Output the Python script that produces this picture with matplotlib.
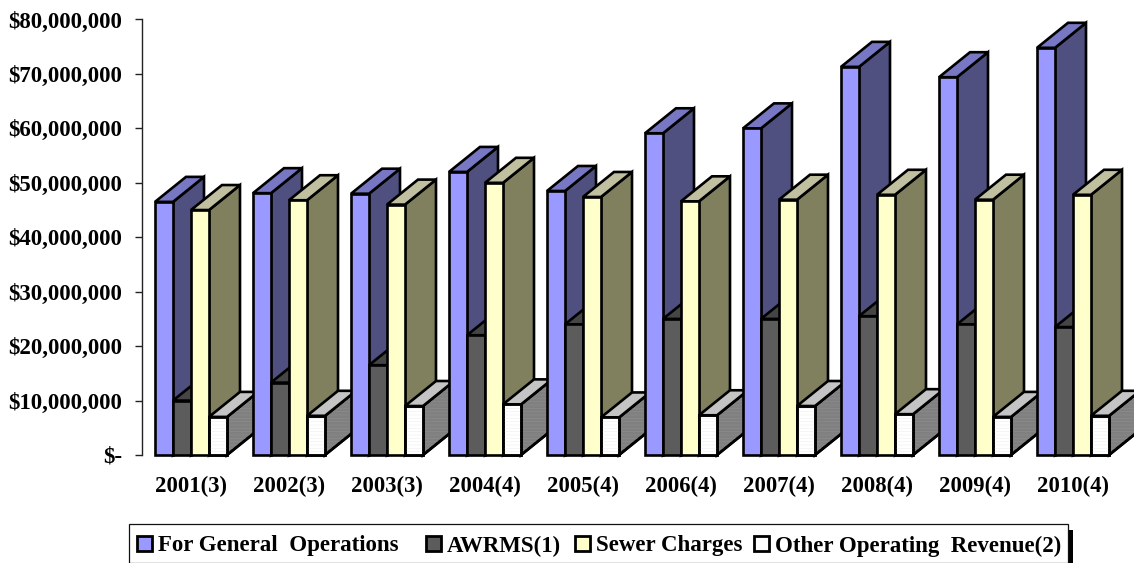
import matplotlib
matplotlib.use('Agg')
import matplotlib.pyplot as plt
from matplotlib.patches import Polygon, Rectangle
from matplotlib.ticker import FuncFormatter

plt.rcParams['font.family'] = ['Liberation Serif', 'DejaVu Serif']
plt.rcParams['font.weight'] = 'bold'
plt.rcParams['hatch.linewidth'] = 0.4

years = ['2001(3)', '2002(3)', '2003(3)', '2004(4)', '2005(4)',
         '2006(4)', '2007(4)', '2008(4)', '2009(4)', '2010(4)']
general_ops = [46.5, 48.1, 48.0, 52.0, 48.5, 59.1, 60.0, 71.3, 69.4, 74.8]
awrms = [10.0, 13.3, 16.5, 22.0, 24.0, 25.0, 25.0, 25.5, 24.0, 23.5]
sewer = [45.0, 46.8, 46.0, 50.0, 47.4, 46.6, 46.9, 47.8, 46.9, 47.8]
other_rev = [7.0, 7.2, 9.0, 9.3, 6.9, 7.3, 9.0, 7.5, 7.0, 7.2]

names = ['For General  Operations', 'AWRMS(1)', 'Sewer Charges', 'Other Operating  Revenue(2)']
series = [general_ops, awrms, sewer, other_rev]
# front, top, side
colors = [('#9999FF', '#7777C4', '#4F4F80'),
          ('#5C5C5C', '#454545', '#2E2E2E'),
          ('#FFFFCC', '#C0C0A0', '#80805F'),
          ('#FFFFFF', '#C4C4C4', '#808080')]

W, H = 1134, 563
fig = plt.figure(figsize=(W / 100, H / 100), dpi=100)
left, right, top, bottom = 142, 1134, 19.5, 455
ax = fig.add_axes([left / W, 1 - bottom / H, (right - left) / W, (bottom - top) / H])
ax.set_xlim(0, (right - left) / 98)
ax.set_ylim(0, 80)

bar_w = 18 / 98
dx = 31 / 98
dy = 25 / (435.5 / 80)
lw = 1.9


def box(x, h, cols, textured=False):
    front, top_c, side = cols
    kw = dict(edgecolor='black', linewidth=lw, joinstyle='miter', clip_on=False)
    side_pts = [(x + bar_w, 0), (x + bar_w + dx, dy), (x + bar_w + dx, h + dy), (x + bar_w, h)]
    ax.add_patch(Polygon(side_pts, closed=True, facecolor=side, **kw))
    if textured:
        ax.add_patch(Polygon(side_pts, closed=True, facecolor='none', edgecolor='#8E8E8E',
                             hatch='-----', linewidth=0, clip_on=False))
        ax.add_patch(Polygon(side_pts, closed=True, facecolor='none', **kw))
    ax.add_patch(Polygon([(x, h), (x + dx, h + dy), (x + bar_w + dx, h + dy), (x + bar_w, h)],
                         closed=True, facecolor=top_c, **kw))
    ax.add_patch(Rectangle((x, 0), bar_w, h, facecolor=front, **kw))
    if textured:
        ax.add_patch(Rectangle((x, 0), bar_w, h, facecolor='none', edgecolor='#EEEEEE',
                               hatch='-----', linewidth=0, clip_on=False))
        ax.add_patch(Rectangle((x, 0), bar_w, h, facecolor='none', **kw))


for i in range(len(years)):
    x0 = i + 0.5 - 2 * bar_w
    for j, s in enumerate(series):
        box(x0 + j * bar_w, s[i], colors[j], textured=(j == 3))

ax.set_xticks([i + 0.5 for i in range(len(years))])
ax.set_xticklabels(years, fontsize=16.4, fontweight='bold')
ax.tick_params(axis='x', length=0, pad=15)
ax.set_yticks(range(0, 81, 10))
ax.yaxis.set_major_formatter(FuncFormatter(lambda v, p: f'${int(v)},000,000' if v > 0 else '$-'))
ax.tick_params(axis='y', length=5, width=1, pad=9, labelsize=16.5, color='#222222')
for lab in ax.get_yticklabels():
    lab.set_fontweight('bold')
for k in ['top', 'right', 'bottom']:
    ax.spines[k].set_visible(False)
ax.spines['left'].set_linewidth(1)
ax.spines['left'].set_color('#222222')
ax.patch.set_alpha(0)


# legend, in pixel coordinates of the figure
def px(x, y):
    return x / W, 1 - y / H


def frect(x0, y0, x1, y1, **kw):
    fig.add_artist(Rectangle(px(x0, y1), (x1 - x0) / W, (y1 - y0) / H,
                             transform=fig.transFigure, **kw))


frect(1068, 530, 1073, 563, facecolor='black', edgecolor='none')
frect(129, 524, 1068, 562.5, facecolor='white', edgecolor='#111111', linewidth=0.9)
marker_x = [137, 426, 575, 754]
text_x = [158, 447, 596, 775]
for mx, tx, name, c in zip(marker_x, text_x, names, colors):
    frect(mx, 536, mx + 15, 551, facecolor=c[0], edgecolor='black', linewidth=2)
    fig.text(*px(tx, 546), name, fontsize=16.5, fontweight='bold', va='center', ha='left', color='black')

fig.savefig('out.png', dpi=100)
